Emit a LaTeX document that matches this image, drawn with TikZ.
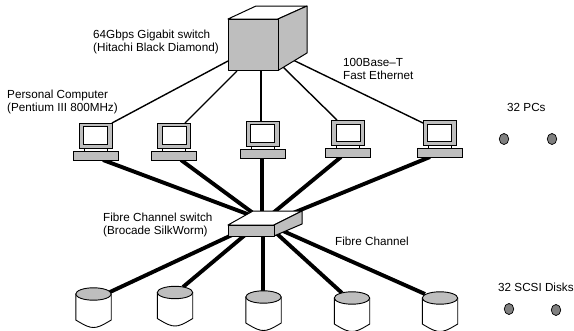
\documentclass[tikz,border=0pt]{standalone}
\usepackage{fontspec}
\setmainfont{Liberation Sans}
\definecolor{boxgray}{HTML}{BEBEBE}
\definecolor{dotgray}{HTML}{808080}
\usetikzlibrary{shapes.geometric}
\tikzset{
  eth/.style={line width=1.4pt,black},
  fibre/.style={line width=3.9pt,black},
  face/.style={draw=black,line width=1pt,fill=boxgray,line join=round},
  topface/.style={draw=black,line width=1pt,fill=white,line join=round},
  lab/.style={anchor=west,inner sep=0pt,align=left,font=\fontsize{11.7}{12.2}\selectfont},
  dotmark/.style={ellipse,draw=black,line width=0.7pt,fill=dotgray,minimum width=9.5pt,minimum height=11pt,inner sep=0pt},
  monitor/.style={rectangle,draw=black,line width=0.9pt,fill=boxgray,minimum width=33pt,minimum height=25pt,inner sep=0pt},
  screen/.style={rectangle,draw=black,line width=0.9pt,fill=white,minimum width=24pt,minimum height=17.5pt,inner sep=0pt},
  neck/.style={rectangle,draw=black,line width=0.7pt,fill=white,minimum width=23pt,minimum height=3.5pt,inner sep=0pt},
  pcbase/.style={rectangle,draw=black,line width=0.9pt,fill=boxgray,minimum width=45pt,minimum height=9pt,inner sep=0pt}
}
\begin{document}
\begin{tikzpicture}[x=1pt,y=-1pt]
\useasboundingbox (0,0) rectangle (574,330);
% connector ends
\coordinate (g1) at (228,61);
\coordinate (g2) at (237,71);
\coordinate (g3) at (261,71);
\coordinate (g4) at (283,67);
\coordinate (g5) at (293,60);
\coordinate (p1) at (112,123);
\coordinate (p2) at (185,123);
\coordinate (p3) at (261,121);
\coordinate (p4) at (337,120);
\coordinate (p5) at (423,123);
\coordinate (b1) at (103,160);
\coordinate (b2) at (181,160);
\coordinate (b3) at (262,158);
\coordinate (b4) at (341,157);
\coordinate (b5) at (430,157);
\coordinate (f1) at (250,215);
\coordinate (f2) at (253,213);
\coordinate (f3) at (262,213);
\coordinate (f4) at (273,213);
\coordinate (f5) at (293,213);
\coordinate (h1) at (232,235);
\coordinate (h2) at (245,235);
\coordinate (h3) at (263,235);
\coordinate (h4) at (275,232);
\coordinate (h5) at (283,231);
\coordinate (d1) at (110,292);
\coordinate (d2) at (183,287);
\coordinate (d3) at (263,292);
\coordinate (d4) at (342,293);
\coordinate (d5) at (425,294);
% connectors
\foreach \i in {1,...,5} {
  \draw[eth] (g\i) -- (p\i);
  \draw[fibre] (b\i) -- (f\i);
  \draw[fibre] (h\i) -- (d\i);
}
% Gigabit switch
\draw[topface] (228,19) -- (256,6) -- (307,6) -- (278,19) -- cycle;
\draw[face] (278,19) -- (307,6) -- (307,53) -- (278,70.5) -- cycle;
\draw[face] (228,19) rectangle (278,70.5);
% FC switch
\draw[topface] (228,225) -- (253,211) -- (302,211) -- (274,225) -- cycle;
\draw[face] (274,225) -- (302,211) -- (302,224) -- (274,236) -- cycle;
\draw[face] (228,225) rectangle (274,236);
% PCs
\foreach \n/\x/\y in {1/95.5/135.5,2/174/135.5,3/262.5/133.5,4/348/133,5/439.5/133} {
  \node[neck] (pcneck\n) at (\x,\y+14.5) {};
  \node[monitor] (pcmon\n) at (\x,\y) {};
  \node[screen] (pcscr\n) at (\x,\y) {};
  \node[pcbase] (pcbase\n) at (\x,\y+20) {};
}
% Disks
\foreach \n/\x/\y in {1/93.5/294,2/175/292.5,3/263.5/297,4/352/298,5/440/298} {
  \draw[black,line width=0.9pt,fill=white,line join=round]
    (\x-17.7,\y) -- (\x-17.7,\y+26) .. controls (\x-8,\y+32) and (\x-4,\y+33.5) .. (\x,\y+33.5)
    .. controls (\x+4,\y+33.5) and (\x+8,\y+32) .. (\x+17.7,\y+26) -- (\x+17.7,\y) -- cycle;
  \draw[black,line width=0.9pt,fill=boxgray] (\x,\y) ellipse [x radius=17.7,y radius=6.2];
}
% Legend dots
\node[dotmark] (dpc1) at (504,139) {};
\node[dotmark] (dpc2) at (552,139) {};
\node[dotmark] (ddk1) at (509,309) {};
\node[dotmark] (ddk2) at (556,310) {};
% Labels
\node[lab] (lsw) at (93,42) {64Gbps Gigabit switch\\(Hitachi Black Diamond)};
\node[lab] (lpc) at (7,102) {Personal Computer\\(Pentium III 800MHz)};
\node[lab] (leth) at (343,69) {100Base--T\\Fast Ethernet};
\node[lab] (lpcs) at (507,107) {32 PCs};
\node[lab] (lfcs) at (103,225) {Fibre Channel switch\\(Brocade SilkWorm)};
\node[lab] (lfc) at (335,241) {Fibre Channel};
\node[lab] (ldk) at (498,287) {32 SCSI Disks};
\end{tikzpicture}
\end{document}
